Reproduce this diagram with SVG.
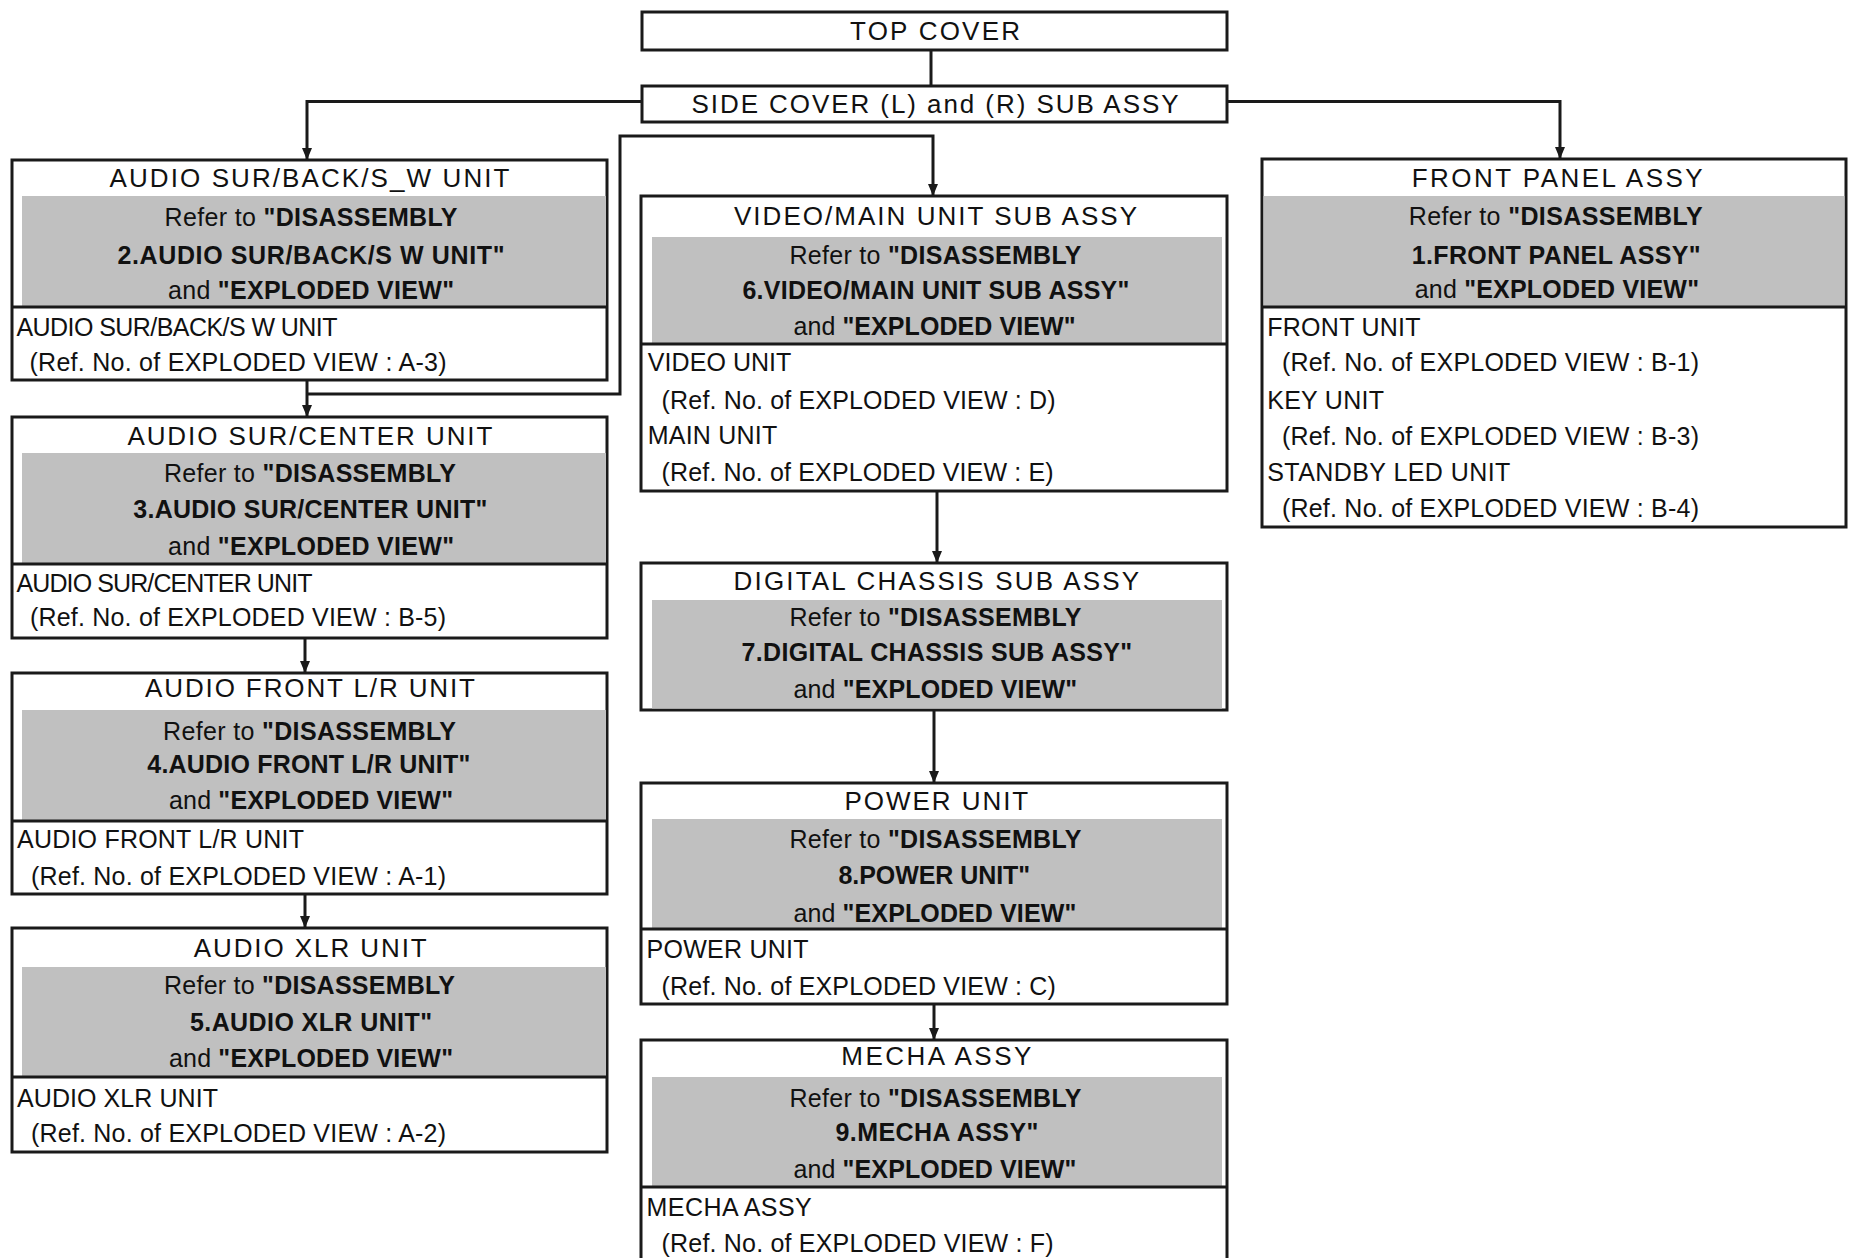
<svg xmlns="http://www.w3.org/2000/svg" width="1850" height="1258" viewBox="0 0 1850 1258">
<style>
.box{fill:#fff;stroke:#1a1a1a;stroke-width:3}
.band{fill:#c0c0c0}
.dv{stroke:#1a1a1a;stroke-width:3}
.cn{fill:none;stroke:#1a1a1a;stroke-width:3}
text{font-family:"Liberation Sans",Arial,sans-serif;fill:#111;font-size:25px}
.ti{font-size:26px}
.bd{font-weight:bold}
</style>
<defs>
<marker id="ar" viewBox="0 0 12 12" refX="12" refY="6" markerWidth="12" markerHeight="12" markerUnits="userSpaceOnUse" orient="auto">
<path d="M0,1 L12,6 L0,11 z" fill="#1a1a1a"/>
</marker>
</defs>
<rect width="1850" height="1258" fill="#fff"/>

<g id="connectors">
<line class="cn" x1="931" y1="50" x2="931" y2="86"/>
<polyline class="cn" points="642,101.5 307,101.5 307,160" marker-end="url(#ar)"/>
<polyline class="cn" points="1227,101.5 1560,101.5 1560,159" marker-end="url(#ar)"/>
<line class="cn" x1="307" y1="380" x2="307" y2="417" marker-end="url(#ar)"/>
<polyline class="cn" points="307,394 620,394 620,136 933,136 933,196" marker-end="url(#ar)"/>
<line class="cn" x1="305" y1="638" x2="305" y2="673" marker-end="url(#ar)"/>
<line class="cn" x1="305" y1="894" x2="305" y2="928" marker-end="url(#ar)"/>
<line class="cn" x1="937" y1="491" x2="937" y2="563" marker-end="url(#ar)"/>
<line class="cn" x1="934" y1="710" x2="934" y2="783" marker-end="url(#ar)"/>
<line class="cn" x1="934" y1="1004" x2="934" y2="1040" marker-end="url(#ar)"/>
</g>

<g id="top-cover">
<rect class="box" x="642" y="12" width="585" height="38"/>
<text class="ti" x="850" y="39.5" textLength="170" lengthAdjust="spacing">TOP COVER</text>
</g>

<g id="side-cover">
<rect class="box" x="642" y="86" width="585" height="36"/>
<text class="ti" x="691.5" y="113" textLength="487" lengthAdjust="spacing">SIDE COVER (L) and (R) SUB ASSY</text>
</g>

<g id="audio-sur-back">
<rect class="box" x="12" y="160" width="595" height="220"/>
<rect class="band" x="22" y="196" width="584" height="110"/>
<line class="dv" x1="12" y1="307" x2="607" y2="307"/>
<text class="ti" x="109.5" y="187" textLength="400" lengthAdjust="spacing">AUDIO SUR/BACK/S_W UNIT</text>
<text x="164.5" y="226" textLength="293" lengthAdjust="spacing">Refer to <tspan class="bd">"DISASSEMBLY</tspan></text>
<text class="bd" x="117.5" y="264" textLength="387" lengthAdjust="spacing">2.AUDIO SUR/BACK/S W UNIT"</text>
<text x="168" y="299" textLength="286" lengthAdjust="spacing">and <tspan class="bd">"EXPLODED VIEW"</tspan></text>
<text x="16.5" y="336" textLength="321" lengthAdjust="spacing">AUDIO SUR/BACK/S W UNIT</text>
<text x="29.5" y="371" textLength="417" lengthAdjust="spacing">(Ref. No. of EXPLODED VIEW : A-3)</text>
</g>

<g id="audio-sur-center">
<rect class="box" x="12" y="417" width="595" height="221"/>
<rect class="band" x="22" y="453" width="584" height="110"/>
<line class="dv" x1="12" y1="564" x2="607" y2="564"/>
<text class="ti" x="127.4" y="445" textLength="365" lengthAdjust="spacing">AUDIO SUR/CENTER UNIT</text>
<text x="164" y="482" textLength="292" lengthAdjust="spacing">Refer to <tspan class="bd">"DISASSEMBLY</tspan></text>
<text class="bd" x="133.3" y="518" textLength="354" lengthAdjust="spacing">3.AUDIO SUR/CENTER UNIT"</text>
<text x="168" y="555" textLength="286" lengthAdjust="spacing">and <tspan class="bd">"EXPLODED VIEW"</tspan></text>
<text x="16.5" y="592" textLength="296" lengthAdjust="spacing">AUDIO SUR/CENTER UNIT</text>
<text x="30" y="626" textLength="416" lengthAdjust="spacing">(Ref. No. of EXPLODED VIEW : B-5)</text>
</g>

<g id="audio-front-lr">
<rect class="box" x="12" y="673" width="595" height="221"/>
<rect class="band" x="22" y="710" width="584" height="110"/>
<line class="dv" x1="12" y1="821" x2="607" y2="821"/>
<text class="ti" x="145" y="697" textLength="330" lengthAdjust="spacing">AUDIO FRONT L/R UNIT</text>
<text x="163" y="740" textLength="293" lengthAdjust="spacing">Refer to <tspan class="bd">"DISASSEMBLY</tspan></text>
<text class="bd" x="147.3" y="773" textLength="323" lengthAdjust="spacing">4.AUDIO FRONT L/R UNIT"</text>
<text x="169" y="809" textLength="284" lengthAdjust="spacing">and <tspan class="bd">"EXPLODED VIEW"</tspan></text>
<text x="17" y="848" textLength="287" lengthAdjust="spacing">AUDIO FRONT L/R UNIT</text>
<text x="31" y="885" textLength="415" lengthAdjust="spacing">(Ref. No. of EXPLODED VIEW : A-1)</text>
</g>

<g id="audio-xlr">
<rect class="box" x="12" y="928" width="595" height="224"/>
<rect class="band" x="22" y="967" width="584" height="109"/>
<line class="dv" x1="12" y1="1077" x2="607" y2="1077"/>
<text class="ti" x="193.7" y="957" textLength="233" lengthAdjust="spacing">AUDIO XLR UNIT</text>
<text x="164" y="994" textLength="291" lengthAdjust="spacing">Refer to <tspan class="bd">"DISASSEMBLY</tspan></text>
<text class="bd" x="190" y="1031" textLength="242" lengthAdjust="spacing">5.AUDIO XLR UNIT"</text>
<text x="169" y="1067" textLength="284" lengthAdjust="spacing">and <tspan class="bd">"EXPLODED VIEW"</tspan></text>
<text x="17" y="1107" textLength="201" lengthAdjust="spacing">AUDIO XLR UNIT</text>
<text x="31" y="1142" textLength="415" lengthAdjust="spacing">(Ref. No. of EXPLODED VIEW : A-2)</text>
</g>

<g id="video-main">
<rect class="box" x="641" y="196" width="586" height="295"/>
<rect class="band" x="652" y="237" width="570" height="106"/>
<line class="dv" x1="641" y1="344" x2="1227" y2="344"/>
<text class="ti" x="734" y="225" textLength="403" lengthAdjust="spacing">VIDEO/MAIN UNIT SUB ASSY</text>
<text x="789.4" y="264" textLength="292" lengthAdjust="spacing">Refer to <tspan class="bd">"DISASSEMBLY</tspan></text>
<text class="bd" x="742.4" y="299" textLength="387" lengthAdjust="spacing">6.VIDEO/MAIN UNIT SUB ASSY"</text>
<text x="793.5" y="335" textLength="282" lengthAdjust="spacing">and <tspan class="bd">"EXPLODED VIEW"</tspan></text>
<text x="647.8" y="371" textLength="143.6" lengthAdjust="spacing">VIDEO UNIT</text>
<text x="661.6" y="409" textLength="394" lengthAdjust="spacing">(Ref. No. of EXPLODED VIEW : D)</text>
<text x="647.8" y="444" textLength="129.4" lengthAdjust="spacing">MAIN UNIT</text>
<text x="661.6" y="481" textLength="392" lengthAdjust="spacing">(Ref. No. of EXPLODED VIEW : E)</text>
</g>

<g id="digital-chassis">
<rect class="box" x="641" y="563" width="586" height="147"/>
<rect class="band" x="652" y="600" width="570" height="108.5"/>
<text class="ti" x="733.5" y="590" textLength="405.7" lengthAdjust="spacing">DIGITAL CHASSIS SUB ASSY</text>
<text x="789.4" y="626" textLength="292" lengthAdjust="spacing">Refer to <tspan class="bd">"DISASSEMBLY</tspan></text>
<text class="bd" x="741.6" y="661" textLength="390.6" lengthAdjust="spacing">7.DIGITAL CHASSIS SUB ASSY"</text>
<text x="793.5" y="698" textLength="283.6" lengthAdjust="spacing">and <tspan class="bd">"EXPLODED VIEW"</tspan></text>
</g>

<g id="power-unit">
<rect class="box" x="641" y="783" width="586" height="221"/>
<rect class="band" x="652" y="819" width="570" height="109"/>
<line class="dv" x1="641" y1="929" x2="1227" y2="929"/>
<text class="ti" x="844.5" y="810" textLength="183.7" lengthAdjust="spacing">POWER UNIT</text>
<text x="789.4" y="848" textLength="292" lengthAdjust="spacing">Refer to <tspan class="bd">"DISASSEMBLY</tspan></text>
<text class="bd" x="838.4" y="884" textLength="191.8" lengthAdjust="spacing">8.POWER UNIT"</text>
<text x="793.5" y="922" textLength="282.8" lengthAdjust="spacing">and <tspan class="bd">"EXPLODED VIEW"</tspan></text>
<text x="646.5" y="958" textLength="162" lengthAdjust="spacing">POWER UNIT</text>
<text x="661.6" y="995" textLength="394.3" lengthAdjust="spacing">(Ref. No. of EXPLODED VIEW : C)</text>
</g>

<g id="mecha-assy">
<rect class="box" x="641" y="1040" width="586" height="226"/>
<rect class="band" x="652" y="1077" width="570" height="109"/>
<line class="dv" x1="641" y1="1187" x2="1227" y2="1187"/>
<text class="ti" x="841.2" y="1065" textLength="190.2" lengthAdjust="spacing">MECHA ASSY</text>
<text x="789.4" y="1107" textLength="292" lengthAdjust="spacing">Refer to <tspan class="bd">"DISASSEMBLY</tspan></text>
<text class="bd" x="835.5" y="1141" textLength="202.9" lengthAdjust="spacing">9.MECHA ASSY"</text>
<text x="793.5" y="1178" textLength="282.8" lengthAdjust="spacing">and <tspan class="bd">"EXPLODED VIEW"</tspan></text>
<text x="646.5" y="1216" textLength="165.3" lengthAdjust="spacing">MECHA ASSY</text>
<text x="661.6" y="1252" textLength="392" lengthAdjust="spacing">(Ref. No. of EXPLODED VIEW : F)</text>
</g>

<g id="front-panel">
<rect class="box" x="1262" y="159" width="584" height="368"/>
<rect class="band" x="1263.5" y="196" width="581" height="110"/>
<line class="dv" x1="1262" y1="307" x2="1846" y2="307"/>
<text class="ti" x="1411.7" y="187" textLength="290.9" lengthAdjust="spacing">FRONT PANEL ASSY</text>
<text x="1408.8" y="225" textLength="293.8" lengthAdjust="spacing">Refer to <tspan class="bd">"DISASSEMBLY</tspan></text>
<text class="bd" x="1411.7" y="264" textLength="289" lengthAdjust="spacing">1.FRONT PANEL ASSY"</text>
<text x="1414.7" y="298" textLength="284.3" lengthAdjust="spacing">and <tspan class="bd">"EXPLODED VIEW"</tspan></text>
<text x="1267.2" y="336" textLength="153.4" lengthAdjust="spacing">FRONT UNIT</text>
<text x="1281.9" y="371" textLength="417.1" lengthAdjust="spacing">(Ref. No. of EXPLODED VIEW : B-1)</text>
<text x="1267.2" y="409" textLength="116.8" lengthAdjust="spacing">KEY UNIT</text>
<text x="1281.9" y="445" textLength="417.1" lengthAdjust="spacing">(Ref. No. of EXPLODED VIEW : B-3)</text>
<text x="1267.2" y="481" textLength="243.1" lengthAdjust="spacing">STANDBY LED UNIT</text>
<text x="1281.9" y="517" textLength="417.1" lengthAdjust="spacing">(Ref. No. of EXPLODED VIEW : B-4)</text>
</g>
</svg>
